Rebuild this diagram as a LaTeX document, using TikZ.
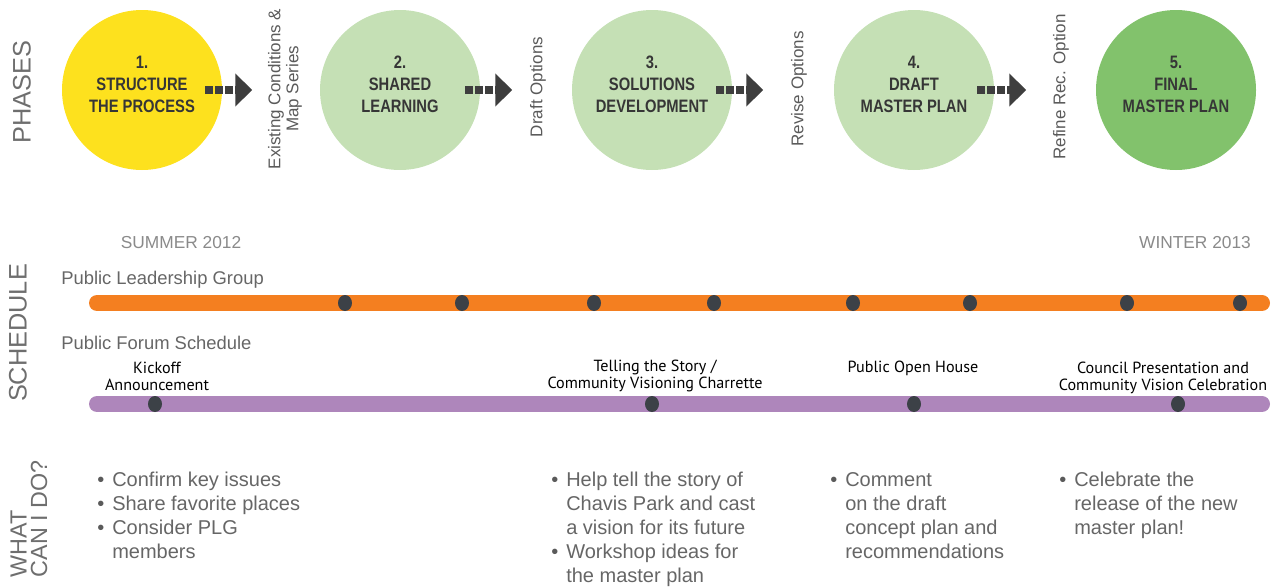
\documentclass[tikz,border=0pt]{standalone}
\usepackage{fontspec}
\setmainfont{Liberation Sans}
\newfontfamily\condbold[FakeStretch=0.82]{Liberation Sans Bold}
\newfontfamily\evfont{PT Sans}
\usetikzlibrary{arrows.meta,calc,shapes.geometric}
\definecolor{yellowc}{HTML}{FDE11E}
\definecolor{lightgreen}{HTML}{C5E0B5}
\definecolor{darkgreen}{HTML}{82C26C}
\definecolor{phtext}{HTML}{363636}
\definecolor{arrowc}{HTML}{3E3E3E}
\definecolor{labelgray}{HTML}{5A5A5A}
\definecolor{sidegray}{HTML}{6E6E6E}
\definecolor{barorange}{HTML}{F47F20}
\definecolor{barpurple}{HTML}{AE86BB}
\definecolor{dotc}{HTML}{3C4147}
\definecolor{bodygray}{HTML}{666666}
\definecolor{seasongray}{HTML}{8A8A8A}
\tikzset{
  phase/.style={circle, inner sep=0pt, minimum size=120pt},
  phtxt/.style={inner sep=0pt, align=center, text=phtext, font=\condbold\fontsize{13.5pt}{16.5pt}\selectfont},
  flow/.style={draw=arrowc, line width=6pt, dash pattern=on 6pt off 1.5pt,
    -{Triangle[length=12.75pt,width=24pt,fill=arrowc]}},
  rotlabel/.style={rotate=90, inner sep=0pt, align=center, text=labelgray, font=\fontsize{12.75pt}{13.5pt}\selectfont},
  sidelabel/.style={rotate=90, inner sep=0pt, align=left, text=sidegray, font=\fontsize{19pt}{15pt}\selectfont},
  season/.style={inner sep=0pt, text=seasongray, font=\fontsize{13pt}{15pt}\selectfont},
  rowtitle/.style={inner sep=0pt, anchor=west, text=bodygray, font=\fontsize{13.8pt}{16pt}\selectfont},
  bar/.style={line width=12pt, line cap=round},
  dot/.style={ellipse, fill=dotc, inner sep=0pt, minimum width=10.5pt, minimum height=12pt},
  event/.style={inner sep=0pt, align=center, text=black, font=\evfont\fontsize{12.1pt}{12.75pt}\selectfont},
  bullets/.style={inner sep=0pt, anchor=north west, align=left, text=bodygray, font=\fontsize{15pt}{18pt}\selectfont},
}
\newcommand{\bul}{\makebox[11.25pt][l]{\textcolor{labelgray}{\textbullet}}}
\newcommand{\ind}{\hspace*{11.25pt}}
\begin{document}
\begin{tikzpicture}[x=0.75pt, y=-0.75pt]
\useasboundingbox (0,0) rectangle (1277,586);
% ---- PHASES ----
\node[sidelabel] (sphases) at (22,92) {PHASES};
\node[phase, fill=yellowc] (c1) at (142,90) {};
\node[phase, fill=lightgreen] (c2) at (400,90) {};
\node[phase, fill=lightgreen] (c3) at (652,90) {};
\node[phase, fill=lightgreen] (c4) at (914,90) {};
\node[phase, fill=darkgreen] (c5) at (1176,90) {};
\node[phtxt] (t1) at (142,84) {1.\\STRUCTURE\\THE PROCESS};
\node[phtxt] (t2) at (400,84) {2.\\SHARED\\LEARNING};
\node[phtxt] (t3) at (652,84) {3.\\SOLUTIONS\\DEVELOPMENT};
\node[phtxt] (t4) at (914,84) {4.\\DRAFT\\MASTER PLAN};
\node[phtxt] (t5) at (1176,84) {5.\\FINAL\\MASTER PLAN};
\node[rotlabel] (l1) at (285,89) {Existing Conditions \&\\Map Series};
\node[rotlabel] (l2) at (538,87) {Draft Options};
\node[rotlabel] (l3) at (799,89) {Revise Options};
\node[rotlabel] (l4) at (1061,87) {Refine Rec. Option};
\draw[flow] ($(c1.east)+(-17,0)$) -- ($(c1.east)+(30,0)$);
\draw[flow] ($(c2.east)+(-15,0)$) -- ($(c2.east)+(32,0)$);
\draw[flow] ($(c3.east)+(-16,0)$) -- ($(c3.east)+(31,0)$);
\draw[flow] ($(c4.east)+(-17,0)$) -- ($(c4.east)+(32,0)$);
% ---- SCHEDULE ----
\node[sidelabel] (ssched) at (18,333) {SCHEDULE};
\node[season] (summer) at (181,243) {SUMMER 2012};
\node[season] (winter) at (1195,243) {WINTER 2013};
\node[rowtitle] (plg) at (61,280) {Public Leadership Group};
\node[rowtitle] (pfs) at (61,343) {Public Forum Schedule};
\coordinate (ob1) at (97,303);
\coordinate (ob2) at (1262,303);
\coordinate (pb1) at (97,404);
\coordinate (pb2) at (1262,404);
\draw[bar, barorange] (ob1) -- (ob2);
\draw[bar, barpurple] (pb1) -- (pb2);
\foreach \x [count=\i] in {345,462,594,714,853,970,1127,1240}
  \node[dot] (od\i) at (\x,303) {};
\foreach \x [count=\i] in {155,652,914,1178}
  \node[dot] (pd\i) at (\x,404) {};
\node[event] (e1) at (157,376) {Kickoff\\Announcement};
\node[event] (e2) at (655,376) {Telling the Story /\\Community Visioning Charrette};
\node[event] (e3) at (913,368) {Public Open House};
\node[event] (e4) at (1163,378) {Council Presentation and\\Community Vision Celebration};
% ---- WHAT CAN I DO ----
\node[sidelabel, font=\fontsize{17.5pt}{15.5pt}\selectfont] (swhat) at (29,519) {WHAT\\CAN I DO?};
\node[bullets] (b1) at (97,472) {\bul Confirm key issues\\\bul Share favorite places\\\bul Consider PLG\\\ind members};
\node[bullets] (b2) at (551,472) {\bul Help tell the story of\\\ind Chavis Park and cast\\\ind a vision for its future\\\bul Workshop ideas for\\\ind the master plan};
\node[bullets] (b3) at (830,472) {\bul Comment\\\ind on the draft\\\ind concept plan and\\\ind recommendations};
\node[bullets] (b4) at (1059,472) {\bul Celebrate the\\\ind release of the new\\\ind master plan!};
\end{tikzpicture}
\end{document}
